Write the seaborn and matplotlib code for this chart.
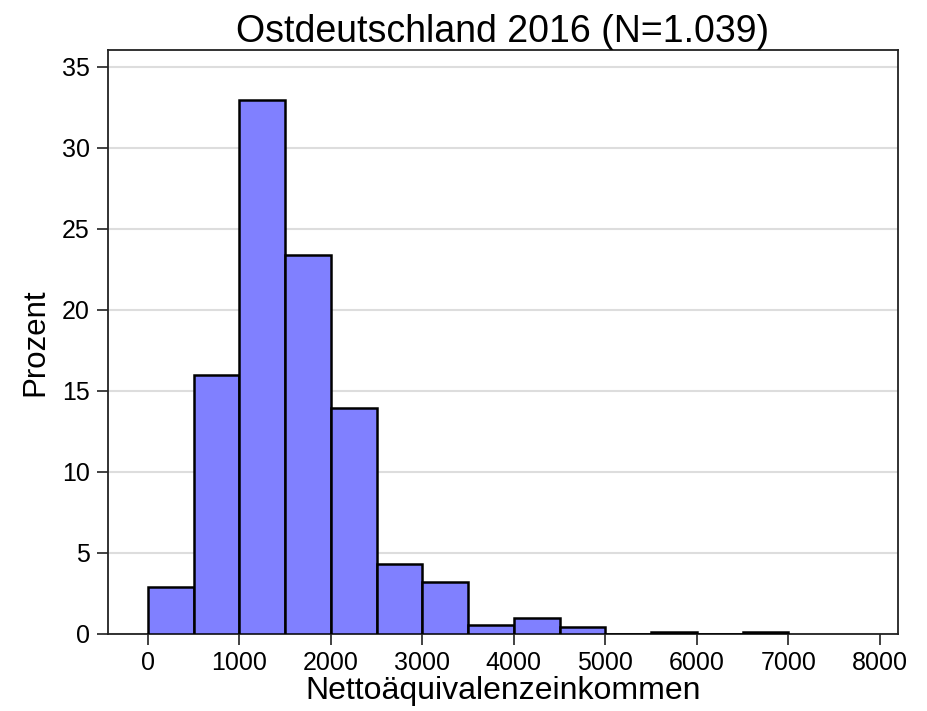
import matplotlib
matplotlib.use("Agg")
import matplotlib.pyplot as plt
import seaborn as sns
import numpy as np

# Data
bin_edges = [0, 500, 1000, 1500, 2000, 2500, 3000, 3500, 4000, 4500, 5000, 5500, 6000, 6500, 7000]
percent = [2.9, 16.0, 32.95, 23.4, 13.95, 4.35, 3.2, 0.55, 1.0, 0.45, 0.0, 0.12, 0.0, 0.12]
bin_centers = [(a + b) / 2 for a, b in zip(bin_edges[:-1], bin_edges[1:])]
x_ticks = [0, 1000, 2000, 3000, 4000, 5000, 6000, 7000, 8000]
y_ticks = [0, 5, 10, 15, 20, 25, 30, 35]
title = "Ostdeutschland 2016 (N=1.039)"
xlabel = "Nettoäquivalenzeinkommen"
ylabel = "Prozent"

sns.set_style("white")
plt.rcParams['font.family'] = ['Liberation Sans', 'DejaVu Sans']
plt.rcParams['text.color'] = 'black'
plt.rcParams['axes.labelcolor'] = 'black'
plt.rcParams['xtick.color'] = 'black'
plt.rcParams['ytick.color'] = 'black'

fig = plt.figure(figsize=(9.27, 7.11), dpi=100)
ax = fig.add_axes([0.1165, 0.1083, 0.852, 0.8214])

sns.histplot(x=bin_centers, weights=percent, bins=bin_edges, ax=ax,
             color="#8080FF", alpha=1.0, edgecolor="black", linewidth=1.8, zorder=3)

ax.set_xlim(-437, 8197)
ax.set_ylim(0, 36.05)
ax.set_xticks(x_ticks)
ax.set_yticks(y_ticks)
ax.tick_params(axis='both', labelsize=18, direction='out', length=8, width=1.3,
               color='#333333', labelcolor='black', bottom=True, left=True, pad=4)
ax.tick_params(axis='y', pad=5)
ax.yaxis.grid(True, color='#dddddd', linewidth=1.5, zorder=0)
ax.set_axisbelow(True)
for s in ax.spines.values():
    s.set_color('#222222')
    s.set_linewidth(1.3)
ax.set_title(title, fontsize=27, pad=6, color='black')
ax.set_xlabel(xlabel, fontsize=23, labelpad=1)
ax.set_ylabel(ylabel, fontsize=22.5, labelpad=8)

fig.savefig("out.png", dpi=100)
